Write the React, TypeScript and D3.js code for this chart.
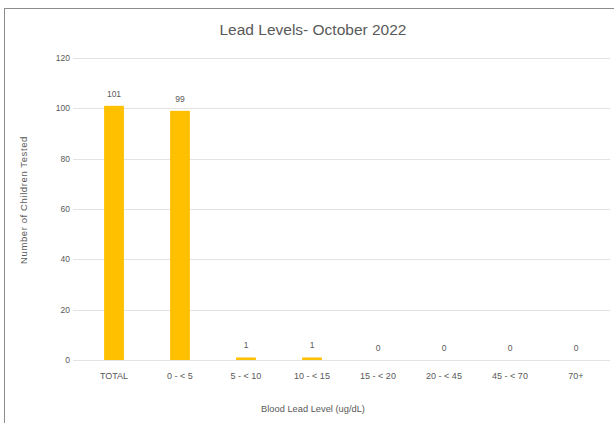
import React, { useRef, useEffect } from "react";
import * as d3 from "d3";

const categories = ["TOTAL", "0 - < 5", "5 - < 10", "10 - < 15", "15 - < 20", "20 - < 45", "45 - < 70", "70+"];
const counts = [101, 99, 1, 1, 0, 0, 0, 0];
const yTicks = [0, 20, 40, 60, 80, 100, 120];

const App = () => {
  const svgRef = useRef<SVGSVGElement>(null);

  useEffect(() => {
    const svg = d3.select(svgRef.current);
    svg.selectAll("*").remove();
    const width = 614;
    const height = 423;
    const font = "'Liberation Sans', Arial, sans-serif";
    const textColor = "#595959";

    // chart frame (runs past the right and bottom edges)
    svg.append("rect")
      .attr("x", 4.5).attr("y", 8.5)
      .attr("width", 640).attr("height", 440)
      .attr("fill", "#fff").attr("stroke", "#8c8c8c");

    const x = d3.scaleBand<string>()
      .domain(categories)
      .range([81, 609])
      .paddingInner(0.7)
      .paddingOuter(0.35);

    const y = d3.scaleLinear().domain([0, 120]).range([360, 58]);

    // gridlines
    svg.append("g")
      .selectAll("line")
      .data(yTicks)
      .enter()
      .append("line")
      .attr("x1", 73).attr("x2", 610)
      .attr("y1", (d) => Math.round(y(d)) + 0.5)
      .attr("y2", (d) => Math.round(y(d)) + 0.5)
      .attr("stroke", "#e3e3e3");

    // y tick labels
    svg.append("g")
      .selectAll("text")
      .data(yTicks)
      .enter()
      .append("text")
      .attr("x", 70)
      .attr("y", (d) => y(d) + 3)
      .attr("text-anchor", "end")
      .attr("font-family", font)
      .attr("font-size", 8.5)
      .attr("fill", textColor)
      .text((d) => d);

    // bars
    svg.append("g")
      .selectAll("rect")
      .data(counts)
      .enter()
      .append("rect")
      .attr("x", (d, i) => x(categories[i])!)
      .attr("y", (d) => y(d))
      .attr("width", x.bandwidth())
      .attr("height", (d) => y(0) - y(d))
      .attr("fill", "#FFC000");

    // value labels
    svg.append("g")
      .selectAll("text")
      .data(counts)
      .enter()
      .append("text")
      .attr("x", (d, i) => x(categories[i])! + x.bandwidth() / 2)
      .attr("y", (d) => y(d) - 9)
      .attr("text-anchor", "middle")
      .attr("font-family", font)
      .attr("font-size", 8.5)
      .attr("fill", textColor)
      .text((d) => d);

    // x tick labels
    svg.append("g")
      .selectAll("text")
      .data(categories)
      .enter()
      .append("text")
      .attr("x", (d) => x(d)! + x.bandwidth() / 2)
      .attr("y", 379)
      .attr("text-anchor", "middle")
      .attr("font-family", font)
      .attr("font-size", 9)
      .attr("fill", textColor)
      .text((d) => d);

    // title
    svg.append("text")
      .attr("x", 313).attr("y", 35)
      .attr("text-anchor", "middle")
      .attr("font-family", font)
      .attr("font-size", 15.5)
      .attr("fill", textColor)
      .text("Lead Levels- October 2022");

    // axis titles
    svg.append("text")
      .attr("x", 313).attr("y", 412)
      .attr("text-anchor", "middle")
      .attr("font-family", font)
      .attr("font-size", 9.3)
      .attr("fill", textColor)
      .text("Blood Lead Level  (ug/dL)");

    svg.append("text")
      .attr("transform", "translate(27, 200) rotate(-90)")
      .attr("text-anchor", "middle")
      .attr("font-family", font)
      .attr("font-size", 9.5)
      .attr("letter-spacing", 0.6)
      .attr("fill", textColor)
      .text("Number of Children Tested");

    svg.attr("width", width).attr("height", height);
  }, []);

  return <svg ref={svgRef} style={{ position: "absolute", left: 0, top: 0 }}></svg>;
};

export default App;
